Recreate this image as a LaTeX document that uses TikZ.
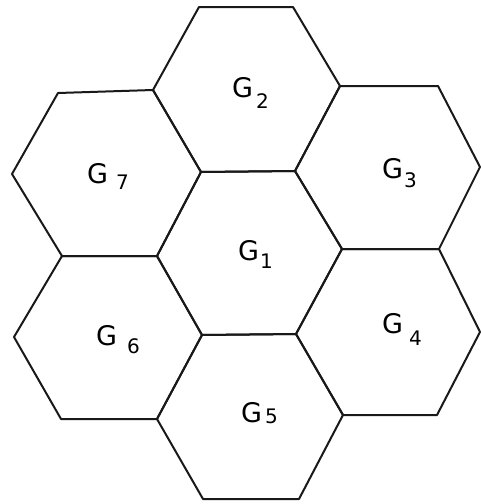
\documentclass[tikz,border=0pt]{standalone}
\usepackage{fontspec}
\setmainfont{DejaVu Sans}
\begin{document}
\begin{tikzpicture}[x=1pt,y=-1pt,
  cell/.style={draw=black!90, line width=2pt, line join=round},
  gl/.style={inner sep=0pt, anchor=base west, font=\fontsize{27}{30}\selectfont},
  sl/.style={inner sep=0pt, anchor=base west, font=\fontsize{20}{22}\selectfont}]
\useasboundingbox (0,0) rectangle (481,504);
\coordinate (A) at (199,7);
\coordinate (B) at (293,7);
\coordinate (C) at (340,86);
\coordinate (D) at (295,171);
\coordinate (E) at (201,172);
\coordinate (F) at (153,90);
\coordinate (G) at (438,86);
\coordinate (H) at (480,167);
\coordinate (I) at (439,249);
\coordinate (J) at (342,249);
\coordinate (K) at (296,334);
\coordinate (L) at (202,335);
\coordinate (M) at (157,256);
\coordinate (N) at (58,93);
\coordinate (P) at (62,256);
\coordinate (Q) at (12,174);
\coordinate (R) at (157,419);
\coordinate (S) at (61,419);
\coordinate (T) at (14,337);
\coordinate (U) at (343,415);
\coordinate (V) at (299,499);
\coordinate (W) at (203,499);
\coordinate (X) at (480,332);
\coordinate (Y) at (437,415);
% G2
\draw[cell] (A)--(B)--(C)--(D)--(E)--(F)--cycle;
% G3
\draw[cell] (C)--(G)--(H)--(I)--(J)--(D)--cycle;
% G1
\draw[cell] (E)--(D)--(J)--(K)--(L)--(M)--cycle;
% G7
\draw[cell] (N)--(F)--(E)--(M)--(P)--(Q)--cycle;
% G6
\draw[cell] (P)--(M)--(L)--(R)--(S)--(T)--cycle;
% G5
\draw[cell] (L)--(K)--(U)--(V)--(W)--(R)--cycle;
% G4
\draw[cell] (J)--(I)--(X)--(Y)--(U)--(K)--cycle;
% labels
\node[gl] (g2) at (232,97) {G};
\node[sl] (s2) at (256,108) {2};
\node[gl] (g7) at (87,183) {G};
\node[sl] (s7) at (116,189) {7};
\node[gl] (g3) at (382,178) {G};
\node[sl] (s3) at (404,187) {3};
\node[gl] (g1) at (238,260) {G};
\node[sl] (s1) at (260,268) {1};
\node[gl] (g6) at (96,345) {G};
\node[sl] (s6) at (127,353) {6};
\node[gl] (g4) at (382,333) {G};
\node[sl] (s4) at (409,345) {4};
\node[gl] (g5) at (241,422) {G};
\node[sl] (s5) at (265,423) {5};
\end{tikzpicture}
\end{document}
